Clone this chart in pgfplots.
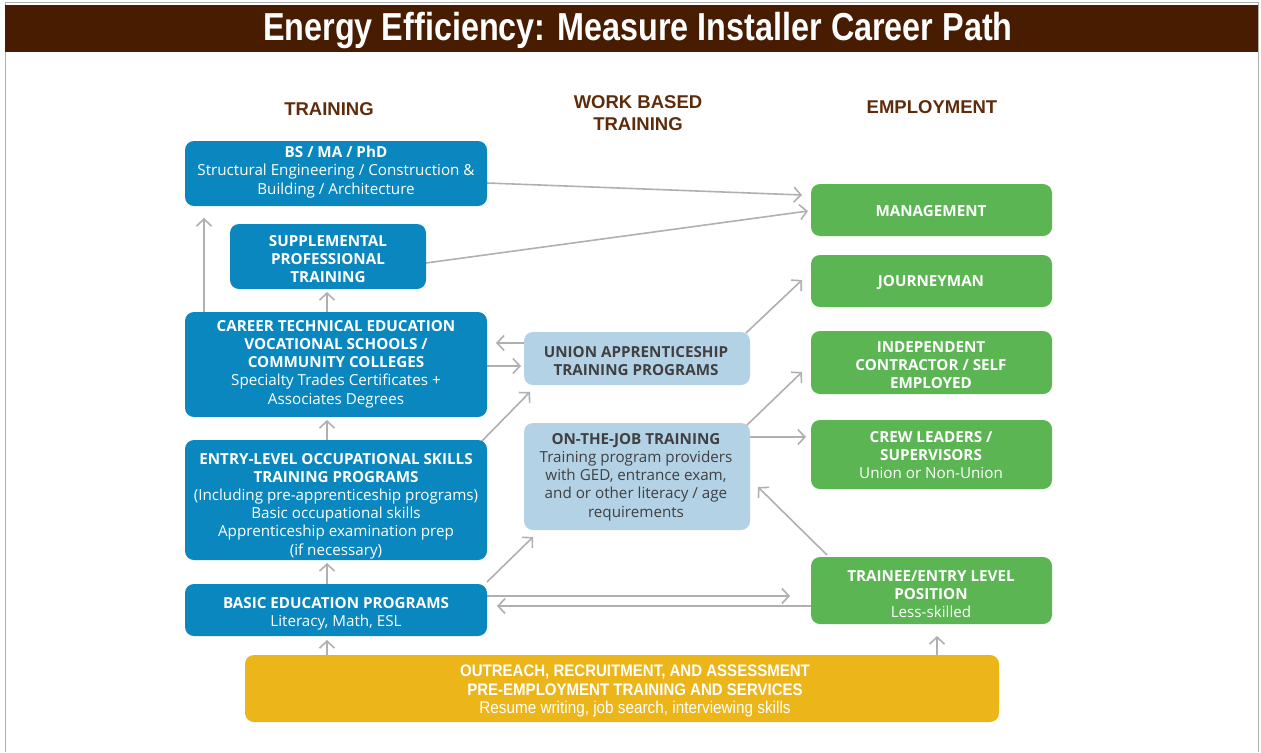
\documentclass[border=0pt]{standalone}
\usepackage{pgfplots}
\pgfplotsset{compat=1.18}
\usetikzlibrary{arrows.meta}
\usepackage{fontspec}
\setmainfont{Open Sans}
\newfontfamily\condfont{Liberation Sans}[FakeStretch=0.83]
\newfontfamily\midfont{Liberation Sans}[FakeStretch=0.9]
\newfontfamily\hfont{Liberation Sans}
\definecolor{band}{HTML}{471C00}
\definecolor{hdr}{HTML}{5E2C0A}
\definecolor{bblue}{HTML}{0A87BE}
\definecolor{lblue}{HTML}{B4D2E6}
\definecolor{bgreen}{HTML}{5BB552}
\definecolor{byellow}{HTML}{ECB51A}
\definecolor{agrey}{HTML}{B0B0B0}
\definecolor{dtext}{HTML}{404040}
\begin{document}
\begin{tikzpicture}[
  arr/.style={draw=agrey,line width=1.6pt,-{Straight Barb[length=7pt,width=15pt,line width=1.6pt]}},
  bx/.style={rounded corners=9pt},
  tx/.style={align=center,inner sep=0pt,font=\fontsize{15.2}{18.2}\selectfont}
]
\begin{axis}[width=1261pt,height=752pt,scale only axis,
  xmin=0,xmax=1261,ymin=0,ymax=752,y dir=reverse,hide axis,clip=false]
% background and border
\fill[white] (axis cs:0,0) rectangle (axis cs:1261,752);
\draw[agrey,line width=1pt] (axis cs:5,752) -- (axis cs:5,2) -- (axis cs:1258,2) -- (axis cs:1258,752);
\fill[band] (axis cs:5,5) rectangle (axis cs:1258,52);
\node[text=white,inner sep=0pt,font=\condfont\bfseries\fontsize{39}{44}\selectfont] at (axis cs:638,31) {Energy Efficiency: Measure Installer Career Path};
% headers
\node[text=hdr,align=center,inner sep=0pt,font=\hfont\bfseries\fontsize{18.5}{22}\selectfont] at (axis cs:329,109) {TRAINING};
\node[text=hdr,align=center,inner sep=0pt,font=\hfont\bfseries\fontsize{18.5}{22}\selectfont] at (axis cs:638,113) {WORK BASED\\TRAINING};
\node[text=hdr,align=center,inner sep=0pt,font=\hfont\bfseries\fontsize{18.5}{22}\selectfont] at (axis cs:932,107) {EMPLOYMENT};
% arrows
\draw[arr] (axis cs:487,183) -- (axis cs:802,195);
\draw[arr] (axis cs:426,263) -- (axis cs:808,211);
\draw[arr] (axis cs:204,312) -- (axis cs:204,218);
\draw[arr] (axis cs:327,312) -- (axis cs:327,292);
\draw[arr] (axis cs:327,440) -- (axis cs:327,420);
\draw[arr] (axis cs:327,584) -- (axis cs:327,563);
\draw[arr] (axis cs:327,655) -- (axis cs:327,640);
\draw[arr] (axis cs:937,655) -- (axis cs:937,636);
\draw[arr] (axis cs:524,343) -- (axis cs:496,343);
\draw[arr] (axis cs:487,366) -- (axis cs:521,366);
\draw[arr] (axis cs:480,443) -- (axis cs:530,392);
\draw[arr] (axis cs:487,582) -- (axis cs:533,537);
\draw[arr] (axis cs:487,596) -- (axis cs:790,596);
\draw[arr] (axis cs:811,606) -- (axis cs:497,606);
\draw[arr] (axis cs:746,333) -- (axis cs:802,280);
\draw[arr] (axis cs:746,426) -- (axis cs:802,372);
\draw[arr] (axis cs:750,437) -- (axis cs:806,437);
\draw[arr] (axis cs:827,555) -- (axis cs:758,487);
% blue boxes
\fill[bblue,bx] (axis cs:185,141) rectangle (axis cs:487,206);
\node[tx,text=white] at (axis cs:336,172) {\textbf{BS / MA / PhD}\\Structural Engineering / Construction \&\\Building / Architecture};
\fill[bblue,bx] (axis cs:230,224) rectangle (axis cs:426,289);
\node[tx,text=white] at (axis cs:328,259) {\textbf{SUPPLEMENTAL}\\\textbf{PROFESSIONAL}\\\textbf{TRAINING}};
\fill[bblue,bx] (axis cs:185,312) rectangle (axis cs:487,417);
\node[tx,text=white] at (axis cs:336,364) {\textbf{CAREER TECHNICAL EDUCATION}\\\textbf{VOCATIONAL SCHOOLS /}\\\textbf{COMMUNITY COLLEGES}\\Specialty Trades Certificates +\\Associates Degrees};
\fill[bblue,bx] (axis cs:185,440) rectangle (axis cs:487,560);
\node[tx,text=white] at (axis cs:336,506) {\textbf{ENTRY-LEVEL OCCUPATIONAL SKILLS}\\\textbf{TRAINING PROGRAMS}\\(Including pre-apprenticeship programs)\\Basic occupational skills\\Apprenticeship examination prep\\(if necessary)};
\fill[bblue,bx] (axis cs:185,584) rectangle (axis cs:487,636);
\node[tx,text=white] at (axis cs:336,614) {\textbf{BASIC EDUCATION PROGRAMS}\\Literacy, Math, ESL};
% light blue boxes
\fill[lblue,bx] (axis cs:524,332) rectangle (axis cs:750,385);
\node[tx,text=dtext] at (axis cs:636,361) {\textbf{UNION APPRENTICESHIP}\\\textbf{TRAINING PROGRAMS}};
\fill[lblue,bx] (axis cs:524,423) rectangle (axis cs:750,530);
\node[tx,text=dtext] at (axis cs:636,477) {\textbf{ON-THE-JOB TRAINING}\\Training program providers\\with GED, entrance exam,\\and or other literacy / age\\requirements};
% green boxes
\fill[bgreen,bx] (axis cs:811,184) rectangle (axis cs:1052,236);
\node[tx,text=white] at (axis cs:931,211) {\textbf{MANAGEMENT}};
\fill[bgreen,bx] (axis cs:811,255) rectangle (axis cs:1052,307);
\node[tx,text=white] at (axis cs:931,283) {\textbf{JOURNEYMAN}};
\fill[bgreen,bx] (axis cs:811,331) rectangle (axis cs:1052,394);
\node[tx,text=white] at (axis cs:931,365) {\textbf{INDEPENDENT}\\\textbf{CONTRACTOR / SELF}\\\textbf{EMPLOYED}};
\fill[bgreen,bx] (axis cs:811,420) rectangle (axis cs:1052,489);
\node[tx,text=white] at (axis cs:931,455) {\textbf{CREW LEADERS /}\\\textbf{SUPERVISORS}\\Union or Non-Union};
\fill[bgreen,bx] (axis cs:811,557) rectangle (axis cs:1052,624);
\node[tx,text=white] at (axis cs:931,594) {\textbf{TRAINEE/ENTRY LEVEL}\\\textbf{POSITION}\\Less-skilled};
% yellow box
\fill[byellow,bx] (axis cs:245,655) rectangle (axis cs:999,722);
\node[align=center,inner sep=0pt,text=white,font=\midfont\fontsize{16.7}{18.5}\selectfont] at (axis cs:635,691) {\textbf{OUTREACH, RECRUITMENT, AND ASSESSMENT}\\\textbf{PRE-EMPLOYMENT TRAINING AND SERVICES}\\{\fontsize{17}{18.5}\selectfont Resume writing, job search, interviewing skills}};
\end{axis}
\end{tikzpicture}
\end{document}
